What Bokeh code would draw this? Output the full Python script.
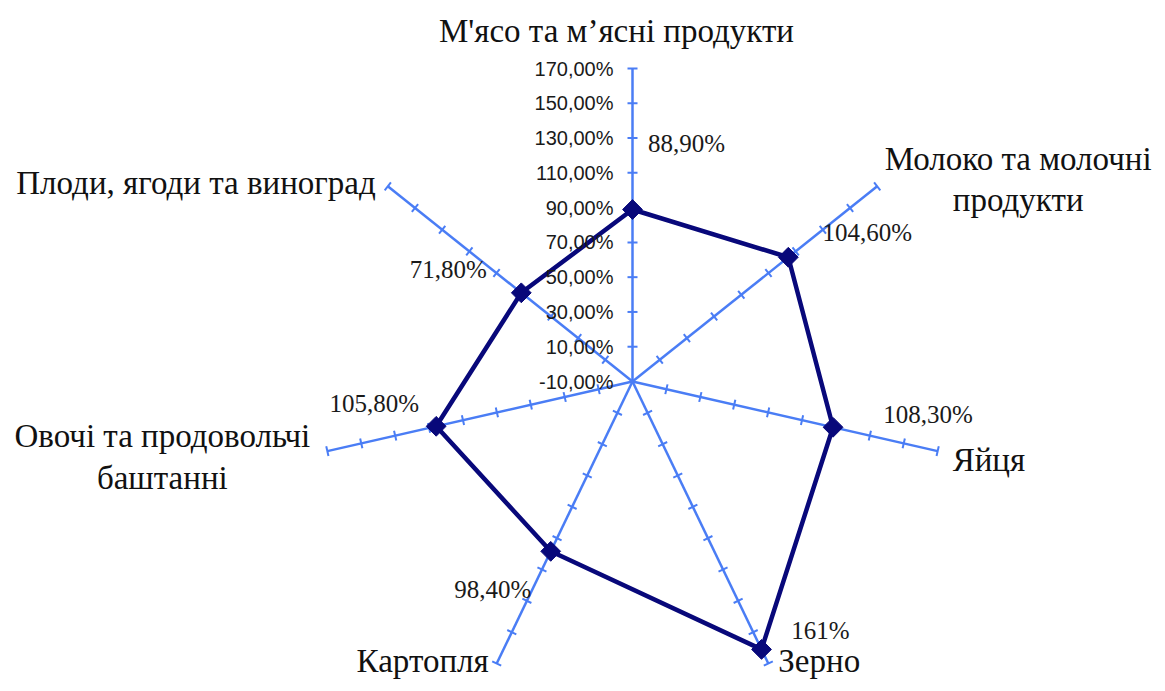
import math
from bokeh.plotting import figure
from bokeh.models import Range1d
from bokeh.core.properties import value
from bokeh.embed import file_html
from bokeh.resources import INLINE

# ---- data ----
categories = [
    "М'ясо та м’ясні продукти",
    "Молоко та молочні\nпродукти",
    "Яйця",
    "Зерно",
    "Картопля",
    "Овочі та продовольчі\nбаштанні",
    "Плоди, ягоди та виноград",
]
values = [88.9, 104.6, 108.3, 161.0, 98.4, 105.8, 71.8]
value_labels = ["88,90%", "104,60%", "108,30%", "161%", "98,40%", "105,80%", "71,80%"]
tick_values = [-10, 10, 30, 50, 70, 90, 110, 130, 150, 170]
tick_labels = ["-10,00%", "10,00%", "30,00%", "50,00%", "70,00%", "90,00%",
               "110,00%", "130,00%", "150,00%", "170,00%"]
axis_min, axis_max = -10, 170

# ---- styles / layout ----
W, H = 1157, 683
cx_px, cy_px = 632, 381          # centre of radar in figure pixels
scale = 313.0 / (axis_max - axis_min)   # pixels per percent
AXIS_COLOR = "#4A7DF5"
LINE_COLOR = "#08087A"

# label offsets (pixels), alignment
val_off = [(54, -66), (79, -25), (95, -13), (59, -19), (-58, 38), (-62, -23), (-73, -23)]
cat_off = [(-16, -38), (141, -7), (15, 9), (10, -3), (-8, -3), (-165, 6), (-12, -3)]
cat_align = ["center", "center", "left", "left", "right", "center", "right"]

p = figure(width=W, height=H, output_backend="svg", toolbar_location=None,
           x_range=Range1d(-cx_px / scale, (W - cx_px) / scale),
           y_range=Range1d(-(H - cy_px) / scale, cy_px / scale),
           min_border=0, outline_line_color=None)
p.axis.visible = False
p.grid.visible = False
p.background_fill_color = "white"
p.border_fill_color = "white"

n = len(categories)
angles = [math.pi / 2 - 2 * math.pi * i / n for i in range(n)]
R = axis_max - axis_min

# spokes
p.segment(x0=[0] * n, y0=[0] * n,
          x1=[R * math.cos(a) for a in angles], y1=[R * math.sin(a) for a in angles],
          line_color=AXIS_COLOR, line_width=2.5)

# tick marks
half = 5.0 / scale
tx0, ty0, tx1, ty1 = [], [], [], []
for a in angles:
    ca, sa = math.cos(a), math.sin(a)
    for t in tick_values[1:]:
        r = t - axis_min
        px, py = r * ca, r * sa
        tx0.append(px - half * (-sa)); ty0.append(py - half * ca)
        tx1.append(px + half * (-sa)); ty1.append(py + half * ca)
p.segment(x0=tx0, y0=ty0, x1=tx1, y1=ty1, line_color=AXIS_COLOR, line_width=2)

# data polygon
xs = [(v - axis_min) * math.cos(a) for v, a in zip(values, angles)]
ys = [(v - axis_min) * math.sin(a) for v, a in zip(values, angles)]
p.line(xs + xs[:1], ys + ys[:1], line_color=LINE_COLOR, line_width=4.5)
p.scatter(xs, ys, marker="square", size=14, angle=math.pi / 4,
          fill_color=LINE_COLOR, line_color=LINE_COLOR)

# tick labels along the top axis
p.text(x=[0] * len(tick_values), y=[t - axis_min for t in tick_values], text=tick_labels,
       x_offset=-19, y_offset=0, text_align="right", text_baseline="middle",
       text_font=value("Liberation Sans"), text_font_size="20px", text_color="#1a1a1a")

# value labels
p.text(x=xs, y=ys, text=value_labels,
       x_offset=[o[0] for o in val_off], y_offset=[o[1] for o in val_off],
       text_align="center", text_baseline="middle",
       text_font=value("Liberation Serif"), text_font_size="25px", text_color="#1a1a1a")

# category labels
ex = [R * math.cos(a) for a in angles]
ey = [R * math.sin(a) for a in angles]
for i in range(n):
    p.text(x=[ex[i]], y=[ey[i]], text=[categories[i]],
           x_offset=cat_off[i][0], y_offset=cat_off[i][1],
           text_align=cat_align[i], text_baseline="middle", text_line_height=1.15,
           text_font=value("Liberation Serif"), text_font_size="33px", text_color="#111111")

open("out.html", "w").write(file_html(p, INLINE))
